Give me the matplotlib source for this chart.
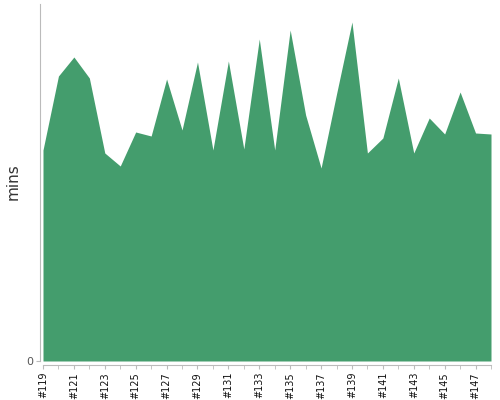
import matplotlib
matplotlib.use("Agg")
import matplotlib.pyplot as plt
import numpy as np

# build numbers and durations (minutes)
builds = list(range(119, 149))
durations = [21.1, 28.5, 30.4, 28.3, 20.8, 19.5, 22.9, 22.5, 28.2, 23.1,
             29.9, 21.1, 30.0, 21.2, 32.2, 21.1, 33.1, 24.6, 19.3, 26.7,
             33.9, 20.8, 22.3, 28.3, 20.8, 24.3, 22.7, 26.9, 22.8, 22.7]
tick_builds = builds[::2]
tick_labels = ["#%d" % b for b in tick_builds]

fig = plt.figure(figsize=(5, 4), dpi=100)
ax = fig.add_axes([0.086, 0.0975, 0.896, 0.8925])

ax.fill_between(builds, durations, 0, color="#449d6d", linewidth=0)
ax.set_xlim(builds[0], builds[-1])
ax.set_ylim(0, 35.7)

ax.spines["top"].set_visible(False)
ax.spines["right"].set_visible(False)
ax.spines["left"].set_position(("outward", 2.2))
ax.spines["bottom"].set_position(("outward", 2.9))
for s in ("left", "bottom"):
    ax.spines[s].set_color("#bbbbbb")
    ax.spines[s].set_linewidth(0.8)

ax.set_yticks([0])
ax.set_yticklabels(["0"], fontsize=8, color="#555555")
ax.tick_params(axis="y", length=3, color="#bbbbbb", pad=2)

ax.set_xticks(builds, minor=True)
ax.set_xticks(tick_builds)
ax.set_xticklabels(tick_labels, rotation=90, fontsize=7, color="#111111")
ax.tick_params(axis="x", which="both", length=3, color="#bbbbbb", pad=2)

ax.set_ylabel("mins", fontsize=11, color="#333333")
ax.yaxis.set_label_coords(-0.049, 0.503)

fig.savefig("out.png", dpi=100)
